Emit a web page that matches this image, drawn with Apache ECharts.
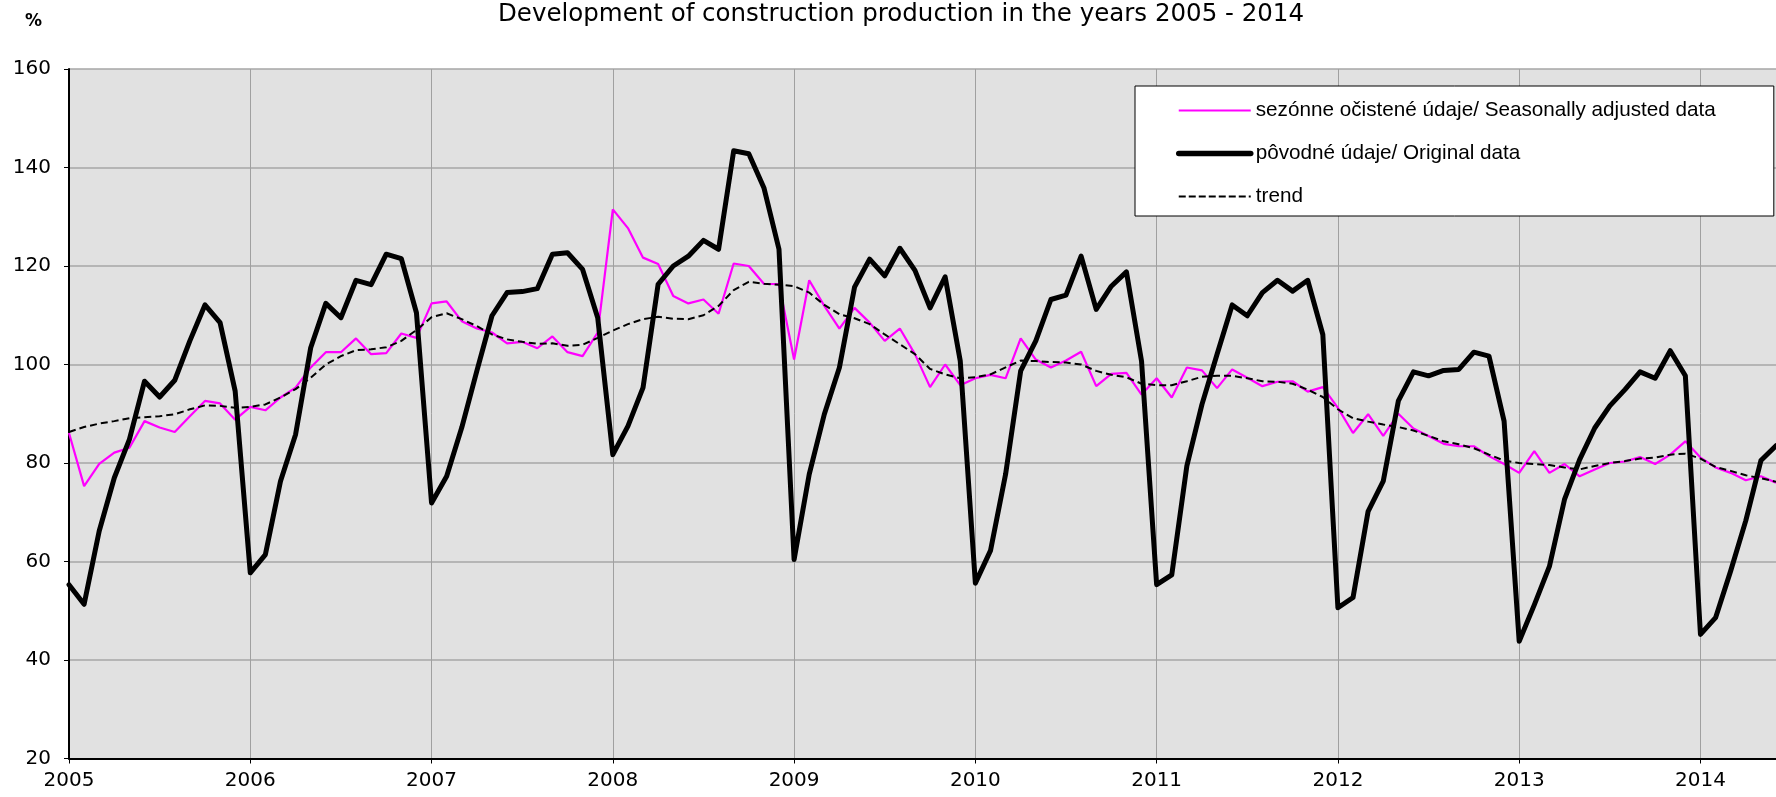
<!DOCTYPE html>
<html>
<head>
<meta charset="utf-8">
<script src="https://cdn.jsdelivr.net/npm/echarts@6/dist/echarts.min.js"></script>
<style>
html,body{margin:0;padding:0;background:#fff;}
#chart{width:1776px;height:797px;}
</style>
</head>
<body>
<div id="chart"></div>
<script>
// Years shown as tick labels (January of each year)
var years = ['2005','2006','2007','2008','2009','2010','2011','2012','2013','2014'];
var monthsInLastYear = 6;

// Original data (pôvodné údaje)
var original = [
  55.3,51.3,66.2,77.0,84.8,96.6,93.4,96.8,104.8,112.1,108.5,94.6,
  57.7,61.4,76.3,85.8,103.4,112.4,109.5,117.1,116.2,122.4,121.5,110.5,
  71.9,77.3,87.2,98.7,109.9,114.6,114.8,115.4,122.4,122.7,119.3,109.5,
  81.7,87.5,95.3,116.3,120.0,122.0,125.2,123.4,143.4,142.8,135.9,123.4,
  60.4,77.7,89.9,99.4,115.7,121.4,118.0,123.6,119.1,111.5,117.8,100.7,
  55.6,62.2,77.7,98.7,104.8,113.2,114.1,122.0,111.2,115.9,118.8,100.7,
  55.3,57.3,79.4,91.9,102.1,112.1,109.9,114.6,117.1,114.9,117.1,106.1,
  50.6,52.7,70.2,76.3,92.6,98.5,97.7,98.8,99.0,102.5,101.7,88.5,
  43.8,51.2,59.0,72.6,80.7,87.1,91.6,94.9,98.5,97.2,102.8,97.7,
  45.2,48.6,58.1,68.3,80.5,83.5
];

// Seasonally adjusted data (sezónne očistené údaje)
var seasonal = [
  86.1,75.3,79.8,82.1,83.1,88.5,87.2,86.3,89.5,92.6,92.1,88.8,
  91.4,90.7,93.3,95.3,99.4,102.5,102.5,105.3,102.1,102.3,106.3,105.4,
  112.4,112.8,108.8,107.3,106.5,104.3,104.6,103.3,105.7,102.5,101.7,106.5,
  131.5,127.7,121.7,120.4,113.9,112.4,113.2,110.3,120.5,120.0,116.4,116.3,
  101.0,117.1,111.9,107.3,111.5,108.5,104.8,107.3,102.1,95.4,100.0,95.8,
  97.2,97.9,97.2,105.3,101.0,99.4,100.8,102.6,95.6,98.1,98.3,93.9,
  97.2,93.3,99.4,98.8,95.2,99.0,97.3,95.6,96.5,96.6,94.5,95.4,
  91.2,86.1,89.9,85.5,90.0,87.0,85.5,83.9,83.4,83.4,81.4,79.8,
  78.0,82.4,78.0,79.8,77.3,78.7,80.0,80.3,81.2,79.8,81.7,84.4,
  81.1,79.1,78.0,76.5,77.3,76.0
];

// Trend
var trend = [
  86.3,87.3,88.0,88.5,89.1,89.3,89.5,89.9,90.9,91.7,91.6,91.2,
  91.4,91.9,93.3,95.0,97.3,100.0,101.7,102.9,103.1,103.5,104.8,107.0,
  109.6,110.4,109.2,107.8,106.1,105.1,104.6,104.2,104.3,103.8,104.0,105.4,
  106.9,108.2,109.2,109.7,109.3,109.2,110.0,111.9,115.1,116.8,116.4,116.2,
  115.9,114.6,112.1,110.2,109.4,108.2,106.1,104.1,102.1,99.1,98.0,97.2,
  97.4,98.0,99.4,100.8,100.7,100.5,100.4,100.0,98.7,97.9,97.4,96.1,
  95.8,95.8,96.6,97.5,97.7,97.7,97.2,96.6,96.5,96.1,94.9,93.4,
  90.9,89.1,88.4,87.8,87.3,86.6,85.5,84.4,83.8,83.0,81.7,80.5,
  80.0,79.8,79.6,79.1,78.7,79.4,80.0,80.4,80.9,81.1,81.7,81.9,
  80.9,79.2,78.4,77.5,76.9,76.2
];

var seriesNames = [
  'sezónne očistené údaje/ Seasonally adjusted data',
  'pôvodné údaje/ Original data',
  'trend'
];

// Monthly category labels
var categories = [];
for (var y = 0; y < years.length; y++) {
  var n = (y === years.length - 1) ? monthsInLastYear : 12;
  for (var m = 1; m <= n; m++) {
    categories.push(years[y] + '-' + (m < 10 ? '0' + m : m));
  }
}

var chart = echarts.init(document.getElementById('chart'), null, {renderer: 'canvas'});
var font = 'DejaVu Sans';
chart.setOption({
  animation: false,
  backgroundColor: '#ffffff',
  title: [{
    text: 'Development of construction production in the years 2005 - 2014',
    left: 896, top: -3, textAlign: 'center',
    textStyle: {fontFamily: font, fontSize: 24.5, fontWeight: 'normal', color: '#000'}
  }, {
    text: '%', left: 20, top: 8,
    textStyle: {fontFamily: font, fontSize: 17, fontWeight: 'bold', color: '#000'}
  }],
  legend: {
    orient: 'vertical',
    left: 1135, top: 86,
    data: [
      {name: seriesNames[0], lineStyle: {width: 2, color: '#ff00ff'}},
      {name: seriesNames[1], lineStyle: {width: 5.5, color: '#000000', cap: 'round'}},
      {name: seriesNames[2], lineStyle: {width: 2, color: '#000000', type: [7, 3]}}
    ],
    backgroundColor: '#ffffff',
    borderColor: '#000000',
    borderWidth: 1,
    padding: [14, 58, 9, 41],
    itemWidth: 72,
    itemHeight: 20,
    itemGap: 22,
    itemStyle: {opacity: 0},
    textStyle: {fontFamily: 'Liberation Sans', fontSize: 20.7, color: '#000'}
  },
  grid: {
    left: 69, right: 0, top: 69, bottom: 38.5,
    show: true, backgroundColor: '#e1e1e1', borderWidth: 0
  },
  xAxis: {
    type: 'category',
    data: categories,
    boundaryGap: false,
    axisLine: {show: true, lineStyle: {color: '#000', width: 2}},
    axisTick: {show: true, interval: 11, length: 5, lineStyle: {color: '#000', width: 1}},
    axisLabel: {
      interval: 11, margin: 12,
      fontFamily: font, fontSize: 20, color: '#000',
      formatter: function (v) { return v.slice(0, 4); }
    },
    splitLine: {show: true, interval: 11, lineStyle: {color: '#a0a0a0', width: 1}}
  },
  yAxis: {
    type: 'value',
    min: 20, max: 160, interval: 20,
    axisLine: {show: true, lineStyle: {color: '#000', width: 2}},
    axisTick: {show: true, length: 5, lineStyle: {color: '#000', width: 1}},
    axisLabel: {margin: 18, fontFamily: font, fontSize: 20, color: '#000'},
    splitLine: {show: true, lineStyle: {color: '#a6a6a6', width: 1.5}}
  },
  series: [{
    name: seriesNames[0], type: 'line', data: seasonal,
    symbol: 'none', color: '#ff00ff',
    lineStyle: {color: '#ff00ff', width: 2.2}, z: 2
  }, {
    name: seriesNames[1], type: 'line', data: original,
    symbol: 'none', color: '#000000',
    lineStyle: {color: '#000000', width: 5, cap: 'round', join: 'round'}, z: 3
  }, {
    name: seriesNames[2], type: 'line', data: trend,
    symbol: 'none', color: '#000000',
    lineStyle: {color: '#000000', width: 2, type: [7, 4]}, z: 4
  }]
});
</script>
</body>
</html>
